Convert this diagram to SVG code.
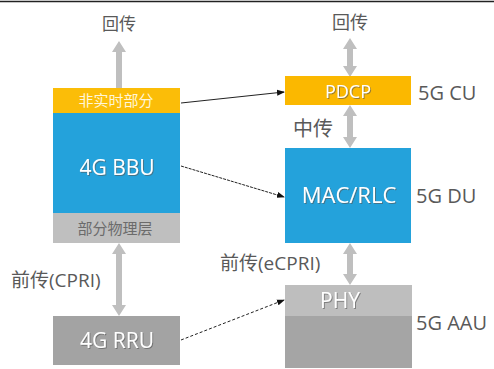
<svg xmlns="http://www.w3.org/2000/svg" width="494" height="369" viewBox="0 0 494 369">
<defs>
<style>
.lbl{font-family:"Open Sans","Noto Sans","Noto Sans CJK SC",sans-serif;fill:#595959;}
.cjk{font-family:"Noto Sans CJK SC","Noto Sans",sans-serif;}
.wt{font-family:"Open Sans","Noto Sans","Noto Sans CJK SC",sans-serif;fill:#ffffff;text-anchor:middle;}
.conn{stroke:#222;stroke-width:1;fill:none;}
.gar{fill:#bfbfbf;}
</style>
<marker id="ah" markerWidth="8" markerHeight="8" refX="7" refY="4" orient="auto" markerUnits="userSpaceOnUse">
<path d="M0,1 L8,4 L0,7 Z" fill="#111"/>
</marker>
<filter id="sh" x="-10%" y="-10%" width="130%" height="140%">
<feDropShadow dx="1" dy="1" stdDeviation="0.6" flood-color="#555" flood-opacity="0.6"/>
</filter>
</defs>
<rect width="494" height="369" fill="#ffffff"/>
<line x1="0" y1="1.5" x2="494" y2="1.5" stroke="#222" stroke-width="1.5"/>

<g id="conn">
<path class="gar" d="M116,88 V52 H112 L119,41 L126,52 H122 V88 Z"/>
<path class="gar" d="M347,49 H343 L350,38 L357,49 H353 V66 H357 L350,77 L343,66 H347 Z"/>
<path class="gar" d="M347,116 H343 L350,105 L357,116 H353 V137 H357 L350,148 L343,137 H347 Z"/>
<path class="gar" d="M347,254 H343 L350,243 L357,254 H353 V274 H357 L350,285 L343,274 H347 Z"/>
<path class="gar" d="M116,254 H112 L119,243 L126,254 H122 V305 H126 L119,316 L112,305 H116 Z"/>
<line class="conn" x1="181" y1="103" x2="284" y2="92" marker-end="url(#ah)"/>
<line class="conn" x1="181" y1="166" x2="284" y2="197" stroke-dasharray="3,1" marker-end="url(#ah)"/>
<line class="conn" x1="181" y1="340" x2="284" y2="300" stroke-dasharray="3,2" marker-end="url(#ah)"/>
</g>

<g id="bbu4g">
<rect x="53" y="88" width="127" height="25" fill="#fbbd08"/>
<rect x="53" y="113" width="127" height="100" fill="#24a2db"/>
<rect x="53" y="213" width="127" height="30" fill="#bfbfbf"/>
<text class="cjk" x="116" y="106" font-size="15" fill="#fff6d8" text-anchor="middle">非实时部分</text>
<text class="wt" x="117" y="175" font-size="21" filter="url(#sh)">4G BBU</text>
<text class="cjk" x="115" y="234" font-size="15" fill="#6b6b6b" text-anchor="middle">部分物理层</text>
</g>

<g id="rru4g">
<rect x="53" y="316" width="127" height="49" fill="#a3a3a3"/>
<text class="wt" x="117" y="348" font-size="21" filter="url(#sh)">4G RRU</text>
</g>

<g id="pdcp">
<rect x="285" y="76" width="126" height="29" fill="#fbb800"/>
<text class="wt" x="348" y="98" font-size="18" filter="url(#sh)">PDCP</text>
</g>

<g id="mac">
<rect x="285" y="148" width="126" height="95" fill="#24a2db"/>
<text class="wt" x="349" y="203" font-size="22" filter="url(#sh)">MAC/RLC</text>
</g>

<g id="aau">
<rect x="285" y="285" width="127" height="31" fill="#bebebe"/>
<rect x="285" y="316" width="127" height="52" fill="#a5a5a5"/>
<text class="wt" x="340" y="308" font-size="21" filter="url(#sh)">PHY</text>
</g>

<g id="labels">
<text class="cjk" x="119" y="30" font-size="17" fill="#595959" text-anchor="middle">回传</text>
<text class="cjk" x="350" y="29" font-size="18" fill="#595959" text-anchor="middle">回传</text>
<text class="cjk" x="313" y="136" font-size="20" fill="#595959" text-anchor="middle">中传</text>
<text class="lbl" x="220" y="270" font-size="19">前传(eCPRI)</text>
<text class="lbl" x="11" y="287" font-size="19">前传(CPRI)</text>
<text class="lbl" x="418" y="100" font-size="20">5G CU</text>
<text class="lbl" x="416" y="203" font-size="20">5G DU</text>
<text class="lbl" x="416" y="330" font-size="20">5G AAU</text>
</g>
</svg>
